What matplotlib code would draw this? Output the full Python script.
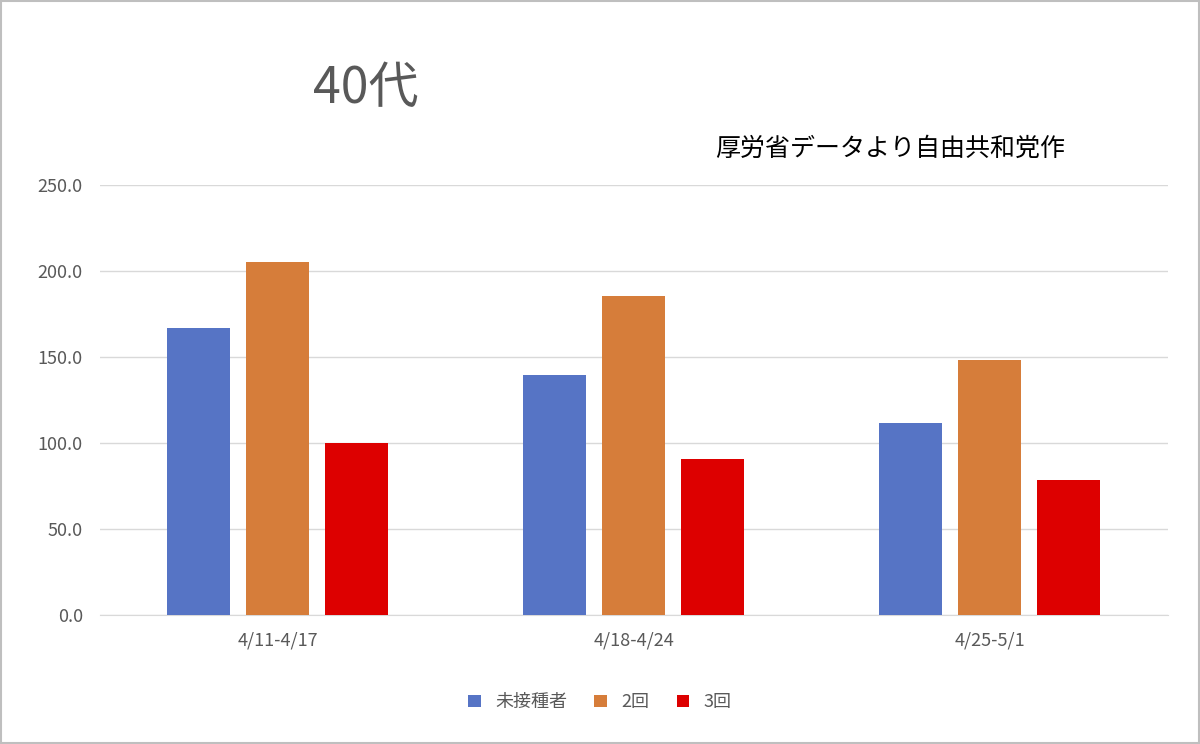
import numpy as np
import matplotlib.pyplot as plt
from matplotlib.patches import Rectangle

plt.rcParams['font.family'] = ['Noto Sans CJK JP', 'DejaVu Sans']

weeks = ["4/11-4/17", "4/18-4/24", "4/25-5/1"]
series = ["未接種者", "2回", "3回"]
unvacc = [166.9, 139.5, 111.6]
dose2 = [205.2, 185.5, 148.3]
dose3 = [100.0, 90.7, 78.5]
colors = ["#5674C5", "#D67D3A", "#DD0000"]

fig = plt.figure(figsize=(12, 7.44), dpi=100)
ax = fig.add_axes([0.083, 0.173, 0.89, 0.578])

x = np.arange(len(weeks))
w = 0.175
offs = [-0.222, 0.0, 0.222]
for vals, off, c, lab in zip([unvacc, dose2, dose3], offs, colors, series):
    ax.bar(x + off, vals, w, color=c, label=lab, zorder=3)

ax.set_ylim(0, 250)
ax.set_xlim(-0.5, 2.5)
ax.set_yticks(np.arange(0, 251, 50))
ax.set_yticklabels([f"{v:.1f}" for v in np.arange(0, 251, 50)])
ax.set_xticks(x)
ax.set_xticklabels(weeks)
ax.tick_params(length=0, labelsize=13, colors="#595959", pad=12)
ax.grid(axis="y", color="#D9D9D9", lw=1, zorder=0)
for s in ["top", "right", "left"]:
    ax.spines[s].set_visible(False)
ax.spines["bottom"].set_color("#D9D9D9")

fig.text(0.305, 0.88, "40代", fontsize=36, color="#595959", ha="center", va="center")
fig.text(0.742, 0.80, "厚労省データより自由共和党作", fontsize=18, color="#000000", ha="center", va="center")

fig.legend(loc="center", bbox_to_anchor=(0.5, 0.056), ncol=3, frameon=False,
           fontsize=13, handlelength=0.7, handleheight=0.7, columnspacing=1.5,
           labelcolor="#595959")

fig.patches.append(Rectangle((0.001, 0.001), 0.998, 0.998, transform=fig.transFigure,
                             fill=False, edgecolor="#BFBFBF", lw=1.5))

fig.savefig("out.png", dpi=100)
